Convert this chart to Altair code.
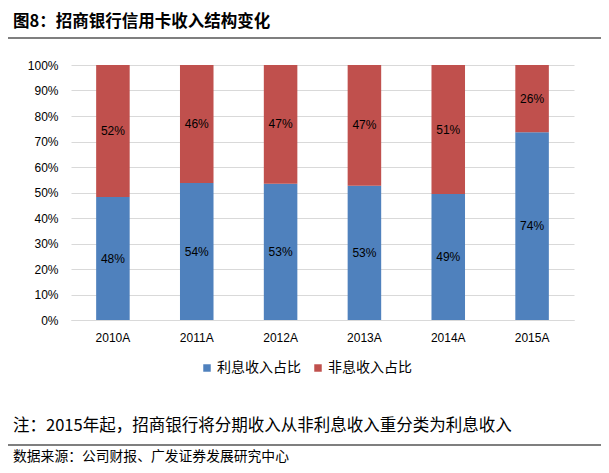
import altair as alt
import pandas as pd

years = ["2010A", "2011A", "2012A", "2013A", "2014A", "2015A"]
interest = [48.2, 53.7, 53.4, 52.6, 49.4, 73.6]
non_interest = [51.8, 46.3, 46.6, 47.4, 50.6, 26.4]
series = ["利息收入占比", "非息收入占比"]
colors = ["#4F81BD", "#C0504D"]
y_ticks = [0, 10, 20, 30, 40, 50, 60, 70, 80, 90, 100]

title_text = "图8：招商银行信用卡收入结构变化"
note_text = "注：2015年起，招商银行将分期收入从非利息收入重分类为利息收入"
source_text = "数据来源：公司财报、广发证券发展研究中心"

rows = []
for y, a, b in zip(years, interest, non_interest):
    rows.append({"year": y, "series": series[0], "value": a, "order": 0})
    rows.append({"year": y, "series": series[1], "value": b, "order": 1})
df = pd.DataFrame(rows)

CJK = "Noto Sans CJK SC"
LAT = "Liberation Sans"

base = alt.Chart(df).transform_stack(
    stack="value", as_=["v0", "v1"], groupby=["year"],
    sort=[alt.SortField("order", order="ascending")]
).transform_calculate(
    mid="(datum.v0 + datum.v1) / 2",
    label="format(datum.value, '.0f') + '%'"
)

xscale = alt.Scale(domain=years, paddingInner=0.6, paddingOuter=0.3)
yscale = alt.Scale(domain=[0, 100], nice=False)
xaxis = alt.Axis(labelAngle=0, labelFont=LAT, labelFontSize=12,
                 labelColor="#000", ticks=False, domainColor="#D9D9D9",
                 labelPadding=12)
yaxis = alt.Axis(values=y_ticks, labelOverlap=False,
                 labelExpr="datum.value + '%'",
                 labelFont=LAT, labelFontSize=12, labelColor="#000",
                 ticks=False, domain=False, gridColor="#D9D9D9",
                 labelPadding=13)

bars = base.mark_bar().encode(
    x=alt.X("year:N", sort=years, title=None, scale=xscale, axis=xaxis),
    y=alt.Y("v0:Q", title=None, scale=yscale, axis=yaxis),
    y2="v1:Q",
    color=alt.Color("series:N", scale=alt.Scale(domain=series, range=colors),
                    legend=alt.Legend(orient="none", legendX=129, legendY=296,
                                      direction="horizontal", title=None,
                                      symbolType="square", symbolSize=56,
                                      symbolStrokeWidth=0,
                                      labelFont=CJK, labelFontSize=14, labelColor="#000",
                                      labelLimit=200, columnPadding=10, labelOffset=3)),
)

labels = base.mark_text(font=LAT, fontSize=12, color="#000").encode(
    x=alt.X("year:N", sort=years, title=None, scale=xscale, axis=xaxis),
    y=alt.Y("mid:Q", title=None, scale=yscale, axis=yaxis),
    text="label:N",
)

def txt(t, x, y, size, weight="normal"):
    return alt.Chart(pd.DataFrame({"t": [t]})).mark_text(
        align="left", baseline="alphabetic", font=CJK, fontSize=size,
        fontWeight=weight, color="#000"
    ).encode(x=alt.value(x), y=alt.value(y), text="t:N")

def hline(y):
    return alt.Chart(pd.DataFrame({"a": [0]})).mark_rule(color="#000", strokeWidth=1.2).encode(
        x=alt.value(-63), x2=alt.value(530), y=alt.value(y))

chart = alt.layer(
    bars, labels,
    txt(title_text, -58, -38, 16.5, "bold"),
    hline(-27),
    txt(note_text, -58, 366, 16.5),
    hline(380),
    txt(source_text, -58, 396, 13.8),
).properties(
    width=503, height=255,
    autosize=alt.AutoSizeParams(type="none"),
    padding={"left": 63, "top": 57, "right": 27, "bottom": 145},
).configure_view(stroke=None)

chart.save("out.html", embed_options={"renderer": "svg", "actions": False})
